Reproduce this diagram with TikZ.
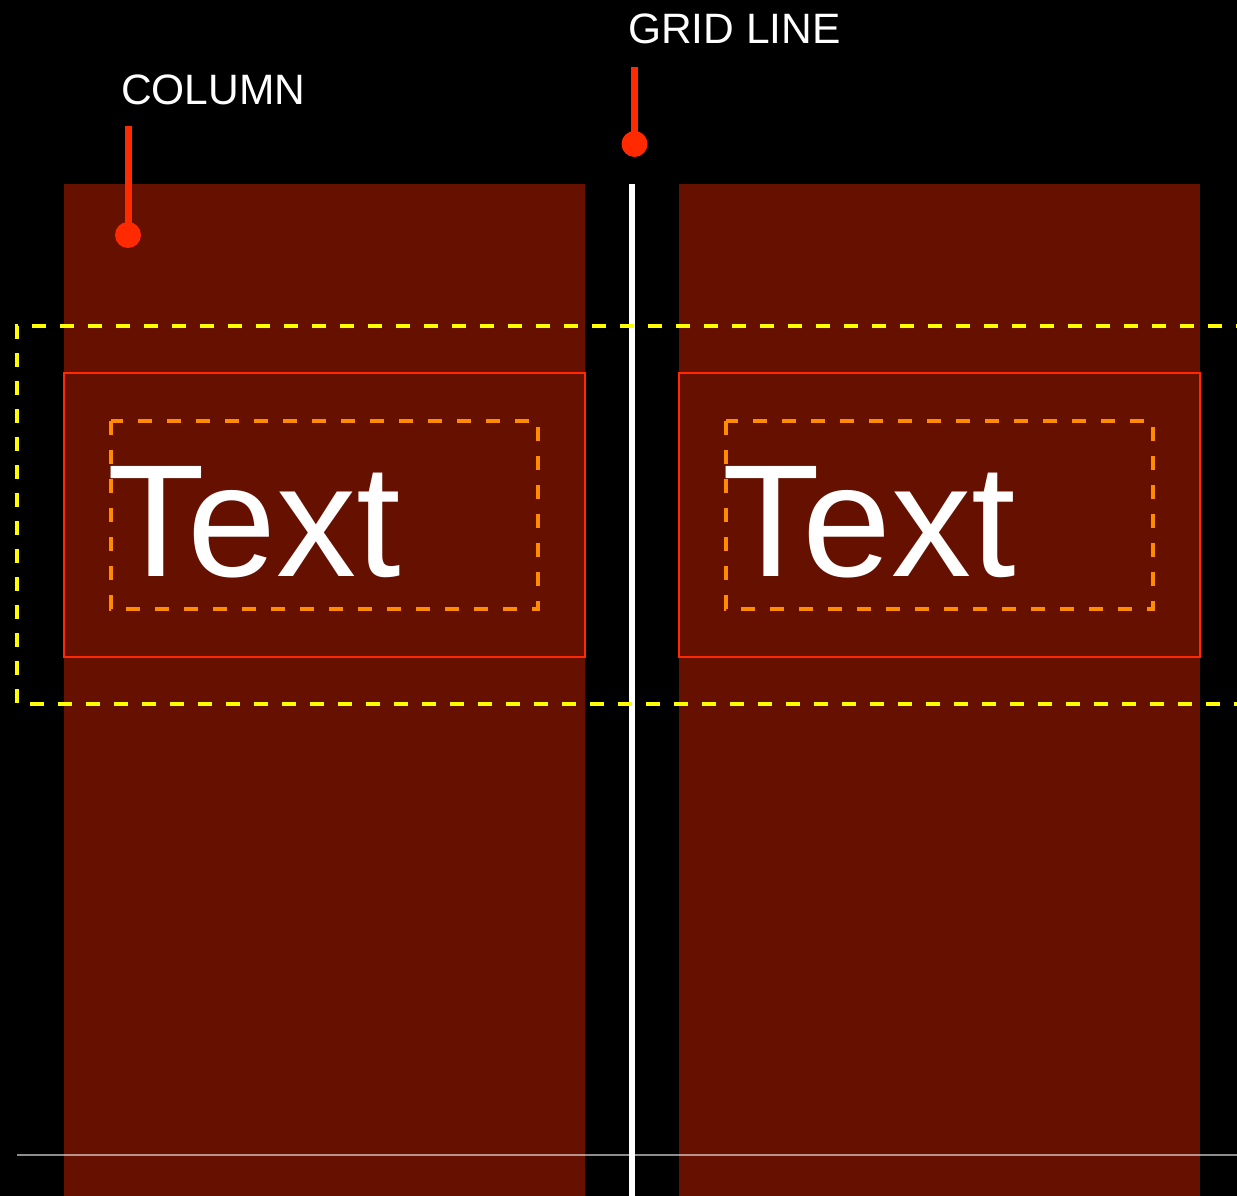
\documentclass[tikz,border=0pt]{standalone}
\usepackage{fontspec}
\setmainfont{Liberation Sans}
\definecolor{colred}{HTML}{661100}
\definecolor{callred}{HTML}{FF2A00}
\definecolor{dashyel}{HTML}{FFFF00}
\definecolor{dashorg}{HTML}{FF8C00}
\tikzset{
  colfill/.style={fill=colred},
  gridln/.style={draw=white, line width=6pt},
  boxln/.style={draw=callred, line width=2.5pt},
  yeldash/.style={draw=dashyel, line width=4pt, dash pattern=on 14pt off 14pt},
  orgdash/.style={draw=dashorg, line width=4pt, dash pattern=on 14pt off 15pt},
  callline/.style={draw=callred, line width=7pt},
  calldot/.style={circle, fill=callred, inner sep=0pt, minimum size=26pt},
  lbl/.style={text=white, inner sep=0pt, anchor=base west, font=\fontsize{42.5}{42.5}\selectfont},
  bigtxt/.style={text=white, inner sep=0pt, anchor=base west, font=\fontsize{160}{160}\selectfont},
}
\begin{document}
\begin{tikzpicture}[x=1pt,y=-1pt]
\fill[black] (0,0) rectangle (1237,1196);
\useasboundingbox (0,0) rectangle (1237,1196);
\clip (0,0) rectangle (1237,1196);
% columns
\path[colfill] (64,184) rectangle (585,1196);
\path[colfill] (679,184) rectangle (1200,1196);
% grid line
\path[gridln] (632,184) -- (632,1196);
% yellow dashed region
\path[yeldash] (1250,326) -- (17,326) -- (17,704) -- (1250,704);
% red boxes
\path[boxln] (64,373) rectangle (585,657);
\path[boxln] (679,373) rectangle (1200,657);
% orange dashed boxes
\path[orgdash] (111,421) rectangle (538,609);
\path[orgdash] (726,421) rectangle (1153,609);
% big texts
\node[bigtxt] (t1) at (107,576) {Text};
\node[bigtxt] (t2) at (722,576) {Text};
% labels and callouts
\node[lbl] (colLabel) at (121,105) {COLUMN};
\node[lbl] (gridLabel) at (628,44) {GRID LINE};
\coordinate (colTop) at (128,126);
\coordinate (gridTop) at (634.5,67);
\node[calldot] (colDot) at (128,235) {};
\node[calldot] (gridDot) at (634.5,144) {};
\path[callline] (colTop) -- (colDot.center);
\path[callline] (gridTop) -- (gridDot.center);
% bottom baseline
\path[draw=white, draw opacity=0.55, line width=2pt] (17,1155) -- (1237,1155);
\end{tikzpicture}
\end{document}
